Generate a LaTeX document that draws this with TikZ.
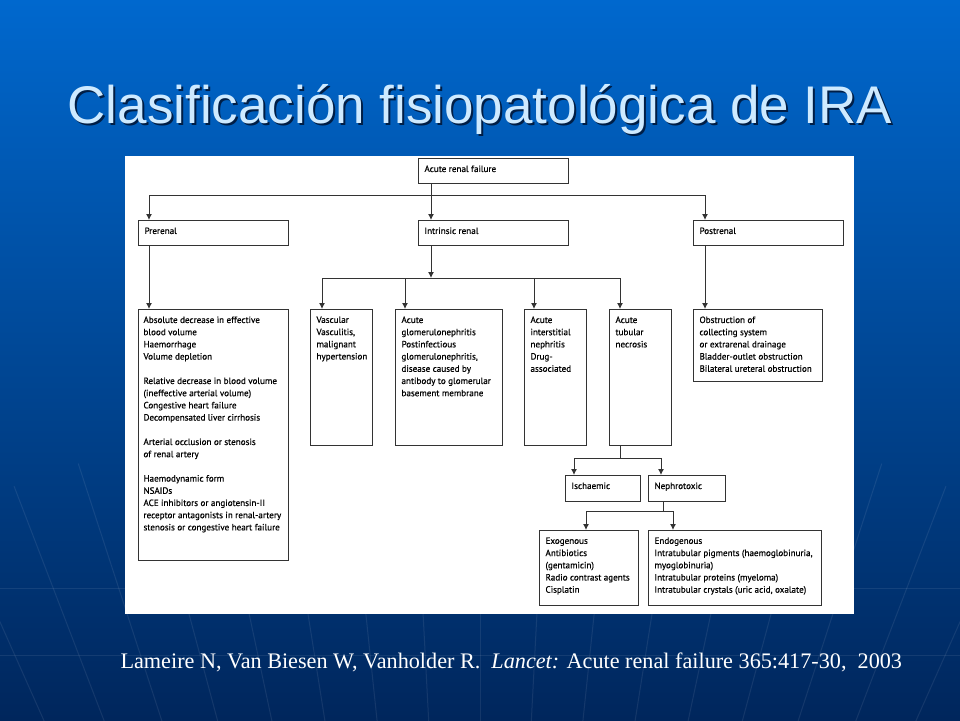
\documentclass[tikz,border=0pt]{standalone}
\usepackage{fontspec}
\setmainfont{Liberation Serif}
\newfontfamily\titlefont{Liberation Sans}
\newfontfamily\boxfont[FakeBold=0.5]{PT Sans}
\usetikzlibrary{arrows.meta}

\definecolor{bgtop}{RGB}{0,104,206}
\definecolor{bgmid}{RGB}{0,78,162}
\definecolor{bgbot}{RGB}{0,38,92}
\definecolor{titleblue}{RGB}{206,234,255}
\definecolor{shadowblue}{RGB}{0,30,70}

\newcommand{\boxtxt}[3]{\parbox[t][#2][t]{#1}{\raggedright #3}}

\begin{document}
\begin{tikzpicture}[>={Latex[length=6pt,width=6pt]}, x=1pt, y=-1pt,
		bx/.style={draw=black!80, line width=1pt, fill=white, anchor=north west,
			inner xsep=6pt, inner ysep=7pt, font=\boxfont\fontsize{9.1}{12.2}\selectfont},
		link/.style={draw=black!80, line width=1pt},
		title/.style={anchor=base, font=\titlefont\fontsize{53}{60}\selectfont},
		cite/.style={anchor=base west, text=white, font=\fontsize{22.2}{26}\selectfont}]
	\useasboundingbox (0,0) rectangle (960,720);
	\shade[top color=bgtop, middle color=bgmid, bottom color=bgbot] (0,0) rectangle (960,720);
	\begin{scope}
		\clip (0,0) rectangle (960,720);
		\foreach \a in {240,243,...,300}
			\draw[white, opacity=.08, line width=1pt] (480,1700) -- ++(\a:1300);
		\foreach \y in {588,655}
			\draw[white, opacity=.08, line width=1pt] (0,\y) -- (960,\y);
	\end{scope}

	\node[title, text=shadowblue] (title-shadow) at (482,125) {Clasificación fisiopatológica de IRA};
	\node[title, text=titleblue] (title) at (480,123) {Clasificación fisiopatológica de IRA};

	\fill[white] (125,156) rectangle (854,614);

	\node[bx] (arf) at (418,158) {\boxtxt{138pt}{11pt}{Acute renal failure}};
	\node[bx] (pre) at (138,220) {\boxtxt{138pt}{11pt}{Prerenal}};
	\node[bx] (intr) at (418,220) {\boxtxt{138pt}{11pt}{Intrinsic renal}};
	\node[bx] (post) at (693,220) {\boxtxt{138pt}{11pt}{Postrenal}};

	\node[bx, inner xsep=5pt] (preb) at (138,309) {\boxtxt{140pt}{237pt}{Absolute decrease in effective\\ blood volume\\ Haemorrhage\\ Volume depletion\\[12.2pt]
		Relative decrease in blood volume\\ (ineffective arterial volume)\\ Congestive heart failure\\ Decompensated liver cirrhosis\\[12.2pt]
		Arterial occlusion or stenosis\\ of renal artery\\[12.2pt]
		Haemodynamic form\\ NSAIDs\\ ACE inhibitors or angiotensin-II\\ \mbox{receptor antagonists in renal-artery}\\ stenosis or congestive heart failure}};
	\node[bx] (vasc) at (310,309) {\boxtxt{50pt}{122pt}{Vascular\\ Vasculitis,\\ malignant\\ hypertension}};
	\node[bx] (agn) at (395,309) {\boxtxt{95pt}{122pt}{Acute\\ glomerulonephritis\\ Postinfectious\\ glomerulonephritis,\\ disease caused by\\ antibody to glomerular\\ basement membrane}};
	\node[bx] (ain) at (524,309) {\boxtxt{50pt}{122pt}{Acute\\ interstitial\\ nephritis\\ Drug-\\ associated}};
	\node[bx] (atn) at (609,309) {\boxtxt{50pt}{122pt}{Acute\\ tubular\\ necrosis}};
	\node[bx] (obs) at (693,309) {\boxtxt{117pt}{58pt}{Obstruction of\\ collecting system\\ or extrarenal drainage\\ Bladder-outlet obstruction\\ Bilateral ureteral obstruction}};

	\node[bx] (isch) at (565,475) {\boxtxt{63pt}{12pt}{Ischaemic}};
	\node[bx] (nephro) at (648,475) {\boxtxt{65pt}{12pt}{Nephrotoxic}};
	\node[bx] (exo) at (539,530) {\boxtxt{87pt}{61pt}{Exogenous\\ Antibiotics\\ (gentamicin)\\ Radio contrast agents\\ Cisplatin}};
	\node[bx] (endo) at (648,530) {\boxtxt{161pt}{61pt}{Endogenous\\ Intratubular pigments (haemoglobinuria,\\ myoglobinuria)\\ Intratubular proteins (myeloma)\\ Intratubular crystals (uric acid, oxalate)}};

	\coordinate (j1) at (431,195);
	\coordinate (j2) at (431,278);
	\coordinate (j3) at (620,458);
	\coordinate (j4) at (663,511);

	\draw[link] (j1 |- arf.south) -- (j1);
	\draw[link,->] (j1) -| ([xshift=11pt]pre.north west);
	\draw[link,->] (j1) -- (j1 |- intr.north);
	\draw[link,->] (j1) -| ([xshift=12pt]post.north west);
	\draw[link,->] ([xshift=11pt]pre.south west) -- ([xshift=11pt]preb.north west);
	\draw[link,->] ([xshift=12pt]post.south west) -- ([xshift=12pt]obs.north west);
	\draw[link,->] (j2 |- intr.south) -- (j2);
	\foreach \n/\dx in {vasc/12,agn/10,ain/10,atn/11}
		\draw[link,->] (j2) -| ([xshift=\dx pt]\n.north west);
	\draw[link] (j3 |- atn.south) -- (j3);
	\draw[link,->] (j3) -| ([xshift=9pt]isch.north west);
	\draw[link,->] (j3) -| ([xshift=13pt]nephro.north west);
	\draw[link] (j4 |- nephro.south) -- (j4);
	\draw[link,->] (j4) -| ([xshift=47pt]exo.north west);
	\draw[link,->] (j4) -| ([xshift=25pt]endo.north west);

	\node[cite] (ref) at (117,668) {Lameire N, Van Biesen W, Vanholder R.\ \ \textit{Lancet:} Acute renal failure 365:417-30,\ \ 2003};
\end{tikzpicture}
\end{document}
